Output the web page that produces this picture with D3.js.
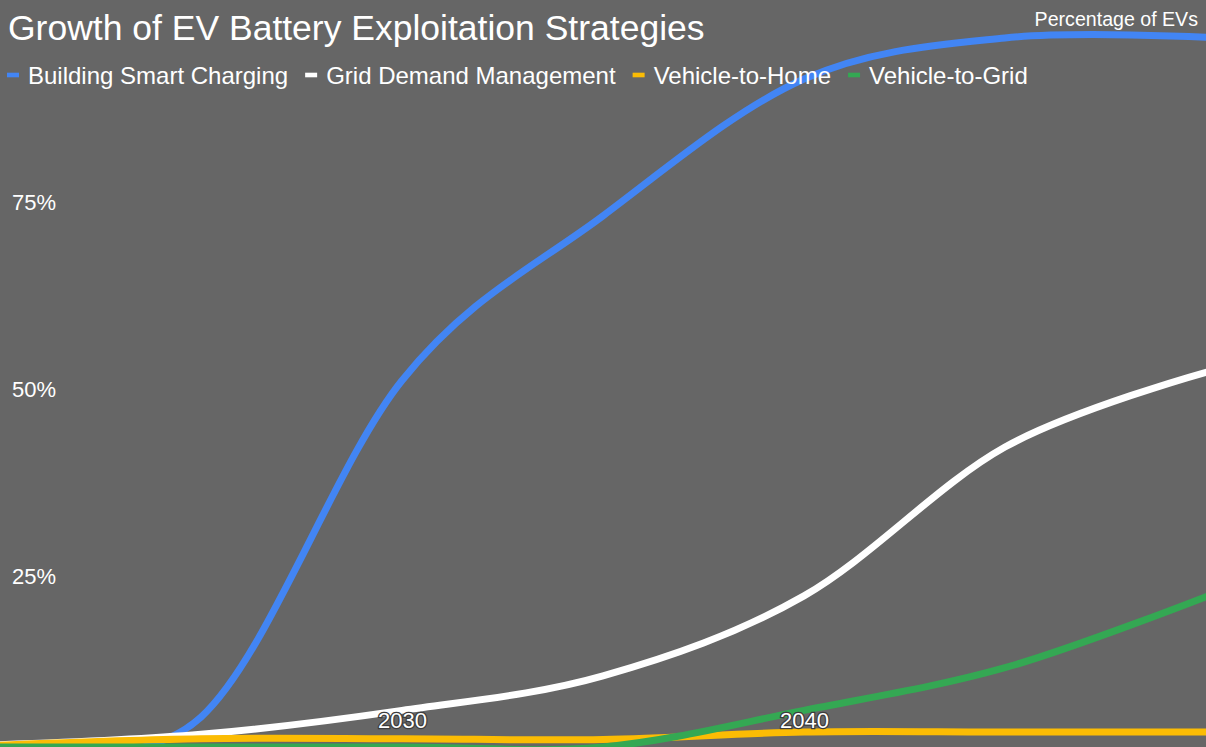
<!DOCTYPE html>
<html>
<head>
<meta charset="utf-8">
<script src="https://cdn.jsdelivr.net/npm/d3@7/dist/d3.min.js"></script>
<style>
  html, body { margin: 0; padding: 0; background: #666666; }
  svg { display: block; }
  text { font-family: "Liberation Sans", Arial, sans-serif; }
</style>
</head>
<body>
<svg id="chart" width="1206" height="747"></svg>
<script>
// ---- data ----
const years = [2020, 2025, 2030, 2035, 2040, 2045, 2050];
const seriesNames = ["Building Smart Charging", "Grid Demand Management", "Vehicle-to-Home", "Vehicle-to-Grid"];
const smartCharging = [0, 4, 49, 71, 89.3, 94.8, 94.9];
const gridDemand = [0.3, 1.7, 4.9, 9.5, 20.2, 40.1, 50.1];
const vehicleToHome = [0.25, 1.1, 1.1, 1.0, 2.0, 2.0, 2.0];
const vehicleToGrid = [0, 0, 0, 0, 4.9, 10.6, 20.1];
const seriesColors = ["#4285F4", "#FFFFFF", "#FBBC04", "#34A853"];
const xTicks = [2030, 2040];
const yTicks = [25, 50, 75];
const titleText = "Growth of EV Battery Exploitation Strategies";
const yAxisTitle = "Percentage of EVs";

const W = 1206, H = 747;
const svg = d3.select("#chart");
svg.append("rect").attr("width", W).attr("height", H).attr("fill", "#666666");

const x = d3.scaleLinear().domain([2020, 2050]).range([0, W]);
const y = d3.scaleLinear().domain([0, 100]).range([H, H - 748]);

const seriesValues = [smartCharging, gridDemand, vehicleToHome, vehicleToGrid];
const series = seriesNames.map((name, i) => ({
  name, color: seriesColors[i],
  points: years.map((yr, j) => ({ year: yr, value: seriesValues[i][j] }))
}));

svg.append("defs").append("clipPath").attr("id", "clip")
  .append("rect").attr("x", 0).attr("y", 0).attr("width", W).attr("height", H);

const line = d3.line()
  .x(d => x(d.year))
  .y(d => y(d.value))
  .curve(d3.curveCardinal.tension(0));

svg.append("g").attr("clip-path", "url(#clip)")
  .selectAll("path").data(series).join("path")
  .attr("d", d => line(d.points))
  .attr("fill", "none")
  .attr("stroke", d => d.color)
  .attr("stroke-width", 7)
  .attr("stroke-linejoin", "round")
  .attr("stroke-linecap", "round");

// x axis labels (inside)
const xAxis = d3.axisBottom(x).tickValues(xTicks).tickFormat(d3.format("d")).tickSize(0);
const gx = svg.append("g").attr("transform", `translate(0,${728})`).call(xAxis);
gx.select(".domain").remove();
gx.selectAll("text")
  .attr("y", 0).attr("dy", 0)
  .attr("fill", "#ffffff")
  .attr("stroke", "#3c3c3c").attr("stroke-width", 2.5)
  .attr("paint-order", "stroke")
  .style("font-size", "22px")
  .style("font-family", '"Liberation Sans", Arial, sans-serif');

// y axis labels (inside)
const yAxis = d3.axisRight(y).tickValues(yTicks).tickFormat(d => d + "%").tickSize(0);
const gy = svg.append("g").call(yAxis);
gy.select(".domain").remove();
gy.selectAll("text")
  .attr("x", 12).attr("y", 23).attr("dy", 0)
  .attr("text-anchor", "start")
  .attr("fill", "#ffffff")
  .style("font-size", "22px")
  .style("font-family", '"Liberation Sans", Arial, sans-serif');

// title
svg.append("text").attr("x", 8).attr("y", 40)
  .attr("fill", "#ffffff").style("font-size", "35.5px")
  .text(titleText);

// axis title top-right
svg.append("text").attr("x", 1198).attr("y", 26)
  .attr("text-anchor", "end")
  .attr("fill", "#ffffff").style("font-size", "19.6px")
  .text(yAxisTitle);

// legend
const legend = svg.append("g");
let lx = 7;
series.forEach(s => {
  legend.append("rect").attr("x", lx).attr("y", 72.7).attr("width", 12).attr("height", 4.6)
    .attr("fill", s.color);
  const t = legend.append("text").attr("x", lx + 21).attr("y", 83.5)
    .attr("fill", "#ffffff").style("font-size", "24px").text(s.name);
  lx = lx + 21 + t.node().getComputedTextLength() + 17;
});
</script>
</body>
</html>
